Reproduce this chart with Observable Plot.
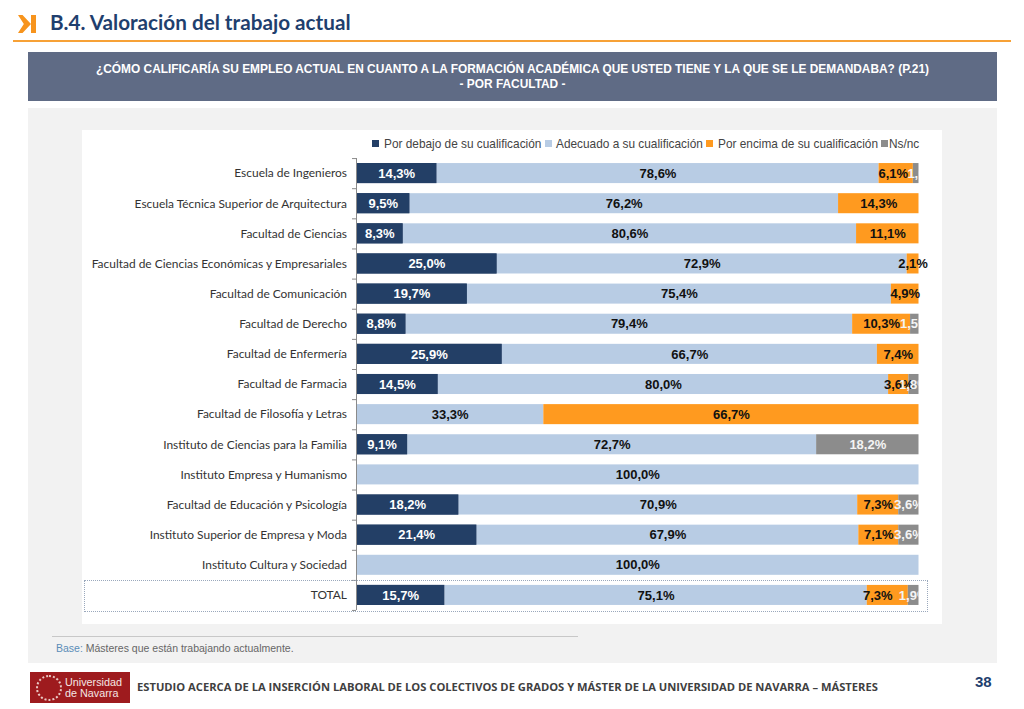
<!DOCTYPE html>
<html lang="es">
<head>
<meta charset="utf-8">
<script src="https://cdn.jsdelivr.net/npm/d3@7"></script>
<script src="https://cdn.jsdelivr.net/npm/@observablehq/plot@0.6"></script>
<style>
  html,body{margin:0;padding:0;background:#fff;width:1024px;height:709px;overflow:hidden;font-family:"Liberation Sans",sans-serif}
  .abs{position:absolute}
  #chart svg{display:block;background:#fff}
  g[aria-label="sombra"]{filter:drop-shadow(2px 2px 1.5px rgba(0,0,0,.45))}
  .lg{position:absolute;top:137px;font-size:11.85px;line-height:14px;color:#444;white-space:nowrap}
  .sw{position:absolute;top:140px;width:6.5px;height:6.5px}
</style>
</head>
<body>
<div class="abs" style="left:18px;top:15px;width:13px;height:18px;background:#F7941D;clip-path:polygon(0 0,35% 0,100% 50%,35% 100%,0 100%,45% 50%)"></div>
<div class="abs" style="left:31px;top:15px;width:5px;height:18px;background:#F7941D"></div>
<div class="abs" id="title" style="left:50px;top:9px;font:700 20.7px/26px Lato,sans-serif;color:#1F3F6E;white-space:nowrap">B.4. Valoración del trabajo actual</div>
<div class="abs" style="left:13px;top:40px;width:998px;height:2px;background:#F7A136"></div>
<div class="abs" style="left:28px;top:52px;width:969px;height:49px;background:#5F6B85;color:#fff;text-align:center;font:700 11.9px/15px 'Liberation Sans',sans-serif;padding-top:0">
  <div style="margin-top:9.5px">¿CÓMO CALIFICARÍA SU EMPLEO ACTUAL EN CUANTO A LA FORMACIÓN ACADÉMICA QUE USTED TIENE Y LA QUE SE LE DEMANDABA? (P.21)</div>
  <div>- POR FACULTAD -</div>
</div>
<div class="abs" style="left:28px;top:108px;width:969px;height:555px;background:#F2F2F2"></div>
<div class="abs" id="chart" style="left:82px;top:130px"></div>
<div class="sw" style="left:372px;background:#233F66"></div><div class="lg" style="left:384px">Por debajo de su cualificación</div>
<div class="sw" style="left:545px;background:#B8CCE4"></div><div class="lg" style="left:556px">Adecuado a su cualificación</div>
<div class="sw" style="left:706px;background:#FF9A1F"></div><div class="lg" style="left:718px">Por encima de su cualificación</div>
<div class="sw" style="left:881px;background:#8C8C8C"></div><div class="lg" style="left:889px">Ns/nc</div>
<div class="abs" style="left:84px;top:580px;width:842px;height:30px;border:1px dotted #9AA8BC"></div>
<div class="abs" style="left:52px;top:636px;width:526px;height:1px;background:#C8C8C8"></div>
<div class="abs" style="left:56px;top:641px;font-size:10.5px;line-height:14px;color:#666;white-space:nowrap"><span style="color:#5B8DB8">Base:</span> Másteres que están trabajando actualmente.</div>
<div class="abs" style="left:30px;top:672px;width:100px;height:31px;background:#9E1B1E"></div>
<div class="abs" style="left:36px;top:675px;width:22px;height:22px;border:2px dotted #E9C9C4;border-radius:50%;box-sizing:content-box"></div>
<div class="abs" style="left:65px;top:677px;color:#F4E6E4;font:400 10.8px/10.5px 'Liberation Sans',sans-serif;white-space:nowrap">Universidad<br>de Navarra</div>
<div class="abs" style="left:137px;top:680px;font:700 11.18px/14px 'Open Sans',sans-serif;color:#404040;white-space:nowrap">ESTUDIO ACERCA DE LA INSERCIÓN LABORAL DE LOS COLECTIVOS DE GRADOS Y MÁSTER DE LA UNIVERSIDAD DE NAVARRA – MÁSTERES</div>
<div class="abs" style="left:975px;top:673px;font:700 15px/18px 'Liberation Sans',sans-serif;color:#1F3F6E">38</div>
<script>
const categories = ["Escuela de Ingenieros","Escuela Técnica Superior de Arquitectura","Facultad de Ciencias","Facultad de Ciencias Económicas y Empresariales","Facultad de Comunicación","Facultad de Derecho","Facultad de Enfermería","Facultad de Farmacia","Facultad de Filosofía y Letras","Instituto de Ciencias para la Familia","Instituto Empresa y Humanismo","Facultad de Educación y Psicología","Instituto Superior de Empresa y Moda","Instituto Cultura y Sociedad","TOTAL"];
const series = ["Por debajo de su cualificación","Adecuado a su cualificación","Por encima de su cualificación","Ns/nc"];
const colors = ["#233F66","#B8CCE4","#FF9A1F","#8C8C8C"];
const labelColors = ["#fff","#111","#111","#f4f4f4"];
const debajo  = [14.3,9.5,8.3,25.0,19.7,8.8,25.9,14.5,0,9.1,0,18.2,21.4,0,15.7];
const adecuado= [78.6,76.2,80.6,72.9,75.4,79.4,66.7,80.0,33.3,72.7,100,70.9,67.9,100,75.1];
const encima  = [6.1,14.3,11.1,2.1,4.9,10.3,7.4,3.6,66.7,0,0,7.3,7.1,0,7.3];
const nsnc    = [1.0,0,0,0,0,1.5,0,1.8,0,18.2,0,3.6,3.6,0,1.9];

const rows = [debajo,adecuado,encima,nsnc].flatMap((vals,s)=>vals.map((v,i)=>({cat:categories[i],s:series[s],v})));
const fmt = d => d.v.toFixed(1).replace(".",",")+"%";
// the stack must see every segment, so the label marks only blank out what they do not draw
const label = (keep,color,extra={}) => Plot.textX(rows, Plot.stackX({
  x:"v", y:"cat", z:"s", order:null, offset:"normalize",
  text:d=> (d.v>0 && keep(d)) ? fmt(d) : "",
  fill:color, fontFamily:"Liberation Sans", fontWeight:700, fontSize:13, stroke:"none", ...extra
}));
const isS = i => d => d.s===series[i];
const nudged = d => d.cat==="TOTAL" && d.s===series[2];
const nudgedFirst = d => d.cat===categories[0] && d.s===series[2];
const nudgedFirstNs = d => d.cat===categories[0] && d.s===series[3];

const chart = Plot.plot({
  width:860, height:494,
  marginLeft:274, marginRight:23.5, marginTop:28, marginBottom:14,
  x:{domain:[0,1],axis:null},
  y:{domain:categories,paddingInner:.335,paddingOuter:.1675,round:false,axis:null},
  color:{domain:series,range:colors},
  style:{background:"#fff",overflow:"visible"},
  marks:[
    Plot.barX(rows, Plot.stackX({x:"v",y:"cat",z:"s",fill:"s",order:series,offset:"normalize"})),
    Plot.barX(rows, Plot.stackX({x:"v",y:"cat",z:"s",fill:d=>d.s===series[0]?"#233F66":"none",order:series,offset:"normalize",ariaLabel:"sombra"})),
    Plot.ruleX([0],{stroke:"#8A8A8A",strokeWidth:1,strokeOpacity:1}),
    Plot.ruleY(categories,{y:d=>d,x1:0,x2:0,dy:-15,insetLeft:-4,stroke:"#8A8A8A"}),
    Plot.ruleY(categories.slice(-1),{y:d=>d,x1:0,x2:0,dy:15,insetLeft:-4,stroke:"#8A8A8A"}),
    Plot.axisY(categories,{anchor:"left",tickSize:0,tickPadding:9.5,label:null,fontFamily:"Lato",fontSize:11.95,fill:"#333"}),
    label(d=>isS(0)(d),labelColors[0]),
    label(d=>isS(1)(d),labelColors[1]),
    label(d=>isS(2)(d)&&!nudged(d)&&!nudgedFirst(d),labelColors[2]),
    label(d=>nudged(d),labelColors[2],{dx:-10}),
    label(d=>nudgedFirst(d),labelColors[2],{dx:-3}),
    label(d=>isS(3)(d)&&!nudgedFirstNs(d),labelColors[3],{clip:true}),
    label(d=>nudgedFirstNs(d),labelColors[3],{clip:true,dx:6})
  ]
});
document.getElementById("chart").append(chart);
</script>
</body>
</html>
